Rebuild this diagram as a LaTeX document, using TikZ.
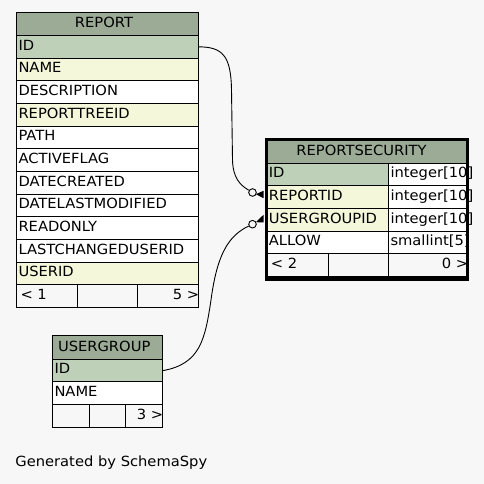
\documentclass[tikz,border=0pt]{standalone}
\usepackage{fontspec}
\setmainfont[FakeStretch=1.05]{DejaVu Sans}
\definecolor{bg}{HTML}{F7F7F7}
\definecolor{hdr}{HTML}{9BAB96}
\definecolor{pk}{HTML}{BED1B8}
\definecolor{fk}{HTML}{F4F7DA}
\tikzset{
  cell/.style={draw=black, line width=1pt, inner sep=0pt, anchor=north west},
  txt/.style={inner sep=0pt, font=\fontsize{14}{17}\selectfont},
  conn/.style={draw=black, line width=0.9pt},
  ring/.style={circle, draw=black, fill=bg, line width=0.9pt, minimum size=7.6pt, inner sep=0pt},
  frame/.style={draw=black, line width=3.4pt, inner sep=0pt, anchor=north west},
}
% name, x, ytop, width, height, fill, text
\newcommand\tcell[7]{\node[cell, fill=#6, minimum width=#4pt, minimum height=#5pt] (#1) at (#2,#3) {};
  \node[txt, anchor=base west] (#1-t) at ([shift={(2,-8.5)}]#1.south west) {#7};}
% header: name, x, ytop, width, height, text, xshift of text
\newcommand\hcell[7]{\node[cell, fill=hdr, minimum width=#4pt, minimum height=#5pt] (#1) at (#2,#3) {};
  \node[txt, anchor=base] (#1-t) at ([shift={(#7,-8.5)}]#1.south) {#6};}
% footer: name, x, ytop, width, height
\newcommand\fcell[5]{\node[cell, fill=none, minimum width=#4pt, minimum height=#5pt] (#1) at (#2,#3) {};}
\begin{document}
\begin{tikzpicture}[x=1pt, y=-1pt]
\useasboundingbox (0,0) rectangle (484,484);
\fill[bg] (0,0) rectangle (484,484);

% ---------- REPORT ----------
\hcell{rh}{16.3}{11.7}{181.4}{23.3}{REPORT}{-3.5}
\tcell{r1}{16.3}{35}{181.4}{22.67}{pk}{ID}
\tcell{r2}{16.3}{57.67}{181.4}{22.67}{fk}{NAME}
\tcell{r3}{16.3}{80.33}{181.4}{22.67}{white}{DESCRIPTION}
\tcell{r4}{16.3}{103}{181.4}{22.67}{fk}{REPORTTREEID}
\tcell{r5}{16.3}{125.67}{181.4}{22.67}{white}{PATH}
\tcell{r6}{16.3}{148.33}{181.4}{22.67}{white}{ACTIVEFLAG}
\tcell{r7}{16.3}{171}{181.4}{22.67}{white}{DATECREATED}
\tcell{r8}{16.3}{193.67}{181.4}{22.67}{white}{DATELASTMODIFIED}
\tcell{r9}{16.3}{216.33}{181.4}{22.67}{white}{READONLY}
\tcell{r10}{16.3}{239}{181.4}{22.67}{white}{LASTCHANGEDUSERID}
\tcell{r11}{16.3}{261.67}{181.4}{22.67}{fk}{USERID}
\fcell{rf1}{16.3}{284.33}{61}{22.67}
\fcell{rf2}{77.3}{284.33}{60}{22.67}
\fcell{rf3}{137.3}{284.33}{60.4}{22.67}
\node[txt, anchor=base west] (rf1-t) at ([shift={(4,-8.5)}]rf1.south west) {< 1};
\node[txt, anchor=base east] (rf3-t) at ([shift={(0.8,-8.5)}]rf3.south east) {5 >};

% ---------- USERGROUP ----------
\hcell{uh}{52.3}{335.3}{109.4}{24}{USERGROUP}{-3.3}
\tcell{u1}{52.3}{359.3}{109.4}{21.7}{pk}{ID}
\tcell{u2}{52.3}{381}{109.4}{23}{white}{NAME}
\fcell{uf1}{52.3}{404}{37}{23}
\fcell{uf2}{89.3}{404}{36}{23}
\fcell{uf3}{125.3}{404}{36.4}{23}
\node[txt, anchor=base east] (uf3-t) at ([shift={(0.8,-8.5)}]uf3.south east) {3 >};

% ---------- REPORTSECURITY ----------
\hcell{sh}{266.7}{139.3}{199.3}{24}{REPORTSECURITY}{-5.3}
\tcell{s1}{266.7}{163.3}{121.6}{21.7}{pk}{ID}
\tcell{s1b}{388.3}{163.3}{77.7}{21.7}{white}{integer[10]}
\tcell{s2}{266.7}{185}{121.6}{22.7}{fk}{REPORTID}
\tcell{s2b}{388.3}{185}{77.7}{22.7}{white}{integer[10]}
\tcell{s3}{266.7}{207.7}{121.6}{23}{fk}{USERGROUPID}
\tcell{s3b}{388.3}{207.7}{77.7}{23}{white}{integer[10]}
\tcell{s4}{266.7}{230.7}{121.6}{22}{white}{ALLOW}
\tcell{s4b}{388.3}{230.7}{77.7}{22}{white}{smallint[5]}
\fcell{sf1}{266.7}{252.7}{61.6}{23}
\fcell{sf2}{328.3}{252.7}{60}{23}
\fcell{sf3}{388.3}{252.7}{77.7}{23}
\node[txt, anchor=base west] (sf1-t) at ([shift={(4,-8.5)}]sf1.south west) {< 2};
\node[txt, anchor=base east] (sf3-t) at ([shift={(1.5,-8.5)}]sf3.south east) {0 >};
\node[frame, minimum width=201pt, minimum height=139.6pt] (sframe) at (265,137.7) {};

% ---------- connectors ----------
\node[ring] (o1) at (252.5,192.5) {};
\node[ring] (o2) at (252.5,224.2) {};
\fill (255.8,194.2) -- (263.5,190.8) -- (263.5,198.2) -- cycle;
\fill (255.8,222.2) -- (263.5,214.8) -- (263.5,222.4) -- cycle;

\draw[conn] (r1.east) .. controls (222,47) and (231,55) .. (231.5,90)
  -- (232.5,160) .. controls (233,178) and (240,185) .. (o1);
\draw[conn] (u1.east) .. controls (200,364) and (205,340) .. (211,300)
  .. controls (217,255) and (228,236) .. (o2);

% ---------- footer text ----------
\node[txt, anchor=base west] (gen) at (15.2,466.7) {Generated by SchemaSpy};
\end{tikzpicture}
\end{document}
